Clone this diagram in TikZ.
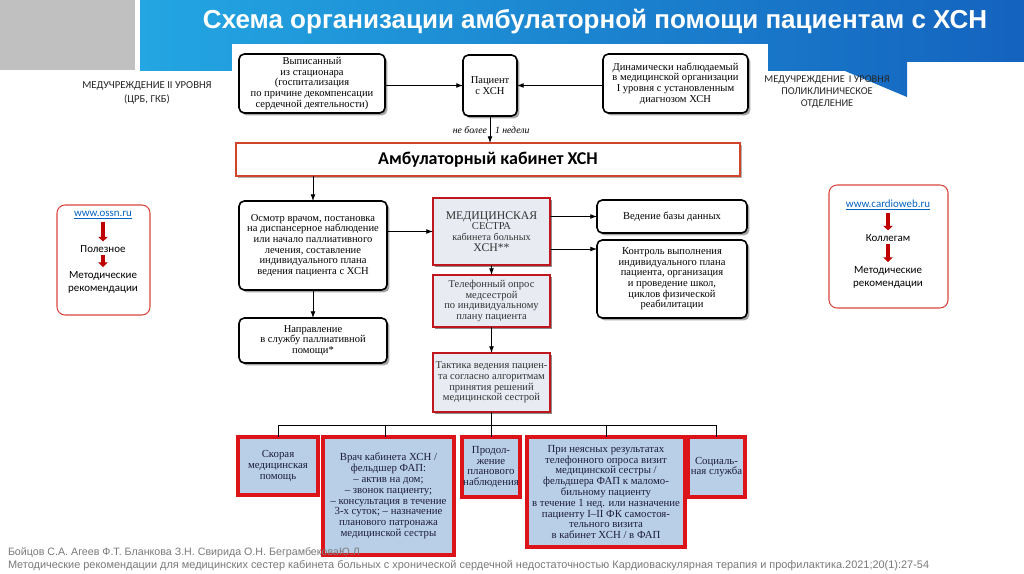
\documentclass[tikz,border=0pt]{standalone}
\usepackage{fontspec}
\setmainfont{Liberation Serif}
\newfontfamily\hfont{Liberation Sans}
\newfontfamily\cfont{Carlito}
\usetikzlibrary{shadows,calc,arrows.meta}

\definecolor{bannerL}{HTML}{23A6E2}
\definecolor{bannerR}{HTML}{1463BE}
\definecolor{slidegray}{HTML}{C0C0C0}
\definecolor{ambred}{HTML}{D0452A}
\definecolor{nred}{HTML}{C0161E}
\definecolor{bred}{HTML}{DC1419}
\definecolor{nursefill}{HTML}{E9EBF3}
\definecolor{bluefill}{HTML}{B9CFE8}
\definecolor{sidered}{HTML}{D9463E}
\definecolor{linkblue}{HTML}{0563C1}
\definecolor{arrred}{HTML}{C00000}
\definecolor{foot}{HTML}{7A7A7A}
\definecolor{navytext}{HTML}{1C1C3C}
\definecolor{labeltext}{HTML}{262626}

\newcommand\placebox[7]{%
 \pgfmathsetmacro\pbcx{(#2+#4)/2}%
 \pgfmathsetmacro\pbcy{(#3+#5)/2}%
 \pgfmathsetmacro\pbw{(#4-#2)*0.75}%
 \pgfmathsetmacro\pbh{(#5-#3)*0.75}%
 \node[#6,minimum width=\pbw pt,minimum height=\pbh pt] (#1) at (\pbcx,\pbcy) {#7};}

\tikzset{
 every node/.style={inner sep=0pt, outer sep=0pt},
 dtext/.style={font=\fontsize{7.9}{8}\selectfont, align=center},
 topbox/.style={dtext, draw=black, line width=1.2pt, rounded corners=4pt, fill=white,
   drop shadow={shadow xshift=1.8pt, shadow yshift=-1.8pt, fill=black, opacity=0.35}},
 nursebox/.style={dtext, text=black!80, draw=nred, line width=2pt, fill=nursefill,
   drop shadow={shadow xshift=1.5pt, shadow yshift=-1.5pt, fill=black, opacity=0.45}},
 bluebox/.style={dtext, font=\fontsize{8.1}{8.1}\selectfont, text=navytext, draw=bred, line width=2.3pt, fill=bluefill,
   drop shadow={shadow xshift=1.5pt, shadow yshift=-1.5pt, fill=black!80!blue, opacity=0.7}},
 ambbox/.style={draw=ambred, line width=1.6pt, fill=white,
   font=\cfont\bfseries\fontsize{13.5}{14}\selectfont,
   drop shadow={shadow xshift=1.5pt, shadow yshift=-1.5pt, fill=black, opacity=0.3}},
 sidebox/.style={draw=sidered, line width=0.8pt, rounded corners=6pt, fill=white},
 sidetext/.style={font=\cfont\fontsize{8.2}{9.8}\selectfont, align=center, text=black},
 arr/.style={-{Latex[length=5pt,width=3.6pt]}, line width=0.6pt},
 plain/.style={line width=0.6pt},
 redarr/.style={-{Triangle[length=3.5pt,width=7pt]}, line width=2.6pt, arrred},
}

\begin{document}
\begin{tikzpicture}[x=0.75pt,y=-0.75pt]
\useasboundingbox (0,0) rectangle (1024,574);
\fill[white] (0,0) rectangle (1024,574);
% header
\fill[slidegray] (0,0) rectangle (135,70);
\shade[left color=bannerL, right color=bannerR]
  (140,0) -- (1024,0) -- (1024,62) -- (907,62) -- (907,97) -- (845,71) -- (140,71) -- cycle;
\fill[white] (232,44) rectangle (768,72);
\node[font=\hfont\bfseries\fontsize{19.5}{20}\selectfont, text=white] (title) at (595,22)
  {Схема организации амбулаторной помощи пациентам с ХСН};

% side labels
\node[font=\cfont\fontsize{8}{10.5}\selectfont, align=center, text=labeltext] (lvl2) at (147,93)
  {МЕДУЧРЕЖДЕНИЕ II УРОВНЯ\\(ЦРБ, ГКБ)};
\node[font=\cfont\fontsize{7.8}{9.2}\selectfont, align=center, text=labeltext] (lvl1) at (827,92)
  {МЕДУЧРЕЖДЕНИЕ\, I УРОВНЯ\\ПОЛИКЛИНИЧЕСКОЕ\\ОТДЕЛЕНИЕ};

% left side box
\placebox{lbox}{57}{205}{150}{315}{sidebox}{}
\node[sidetext, text=linkblue] (oss) at (103,215) {\underline{www.ossn.ru}};
\node[sidetext] (pol) at (103,249) {Полезное};
\node[sidetext] (metL) at (103,282) {Методические\\рекомендации};
\draw[redarr] ([yshift=-2pt]oss.south) -- ([yshift=3pt]pol.north);
\draw[redarr] ([yshift=-2pt]pol.south) -- ([yshift=3pt]metL.north);

% right side box
\placebox{rbox}{829}{185}{948}{308}{sidebox}{}
\node[sidetext, text=linkblue] (cw) at (888,205) {\underline{www.cardioweb.ru}};
\node[sidetext] (kol) at (888,238) {Коллегам};
\node[sidetext] (metR) at (888,277) {Методические\\рекомендации};
\draw[redarr] ([yshift=-2pt]cw.south) -- ([yshift=3pt]kol.north);
\draw[redarr] ([yshift=-2pt]kol.south) -- ([yshift=3pt]metR.north);

% top row
\placebox{A}{239}{54}{385}{113}{topbox}{Выписанный\\из стационара\\(госпитализация\\по причине декомпенсации\\сердечной деятельности)}
\placebox{B}{463}{55}{517}{116}{topbox}{Пациент\\с ХСН}
\placebox{C}{603}{54}{748}{113}{topbox}{Динамически наблюдаемый\\в медицинской организации\\I уровня с установленным\\диагнозом ХСН}

\placebox{amb}{236}{143}{740}{176}{ambbox}{Амбулаторный кабинет ХСН}

% left column
\placebox{D}{239}{201}{387}{290}{topbox}{Осмотр врачом, постановка\\на диспансерное наблюдение\\или начало паллиативного\\лечения, составление\\индивидуального плана\\ведения пациента с ХСН}
\placebox{E}{239}{318}{387}{363}{topbox}{Направление\\в службу паллиативной\\помощи*}

% centre column
\placebox{F}{433}{198}{550}{265}{nursebox}{\fontsize{8.8}{9.2}\selectfont МЕДИЦИНСКАЯ\\СЕСТРА\\\fontsize{7.6}{8.6}\selectfont кабинета больных\\\fontsize{8.8}{9}\selectfont ХСН**}
\placebox{I}{433}{275}{550}{327}{nursebox}{Телефонный опрос\\медсестрой\\по индивидуальному\\плану пациента}
\placebox{J}{433}{353}{550}{412}{nursebox}{Тактика ведения пациен-\\та согласно алгоритмам\\принятия решений\\медицинской сестрой}

% right column
\placebox{G}{597}{200}{747}{233}{topbox}{Ведение базы данных}
\placebox{H}{597}{240}{747}{318}{topbox}{Контроль выполнения\\индивидуального плана\\пациента, организация\\и проведение школ,\\циклов физической\\реабилитации}

% bottom row
\placebox{K}{238}{437}{318}{495}{bluebox}{Скорая\\медицинская\\помощь}
\placebox{L}{323}{437}{454}{555}{bluebox}{Врач кабинета ХСН /\\фельдшер ФАП:\\– актив на дом;\\– звонок пациенту;\\– консультация в течение\\3-х суток; – назначение\\планового патронажа\\медицинской сестры}
\placebox{M}{462}{437}{520}{497}{bluebox}{Продол-\\жение\\планового\\наблюдения}
\placebox{N}{527}{437}{685}{547}{bluebox}{При неясных результатах\\телефонного опроса визит\\медицинской сестры /\\фельдшера ФАП к маломо-\\бильному пациенту\\в течение 1 нед. или назначение\\пациенту I–II ФК самостоя-\\тельного визита\\в кабинет ХСН / в ФАП}
\placebox{O}{688}{437}{745}{497}{bluebox}{Социаль-\\ная служба}

% connectors
\draw[arr] (A.east |- B.west) -- (B.west);
\draw[arr] (C.west |- B.east) -- (B.east);
\draw[arr] (B.south) -- (B.south |- amb.north);
\node[font=\itshape\fontsize{7.3}{8}\selectfont, anchor=east] (nb) at (487,130) {не более};
\node[font=\itshape\fontsize{7.3}{8}\selectfont, anchor=west] (ned) at (495,130) {1 недели};
\draw[arr] (amb.south -| D.north) -- (D.north);
\draw[arr] (D.south) -- (E.north);
\draw[arr] (D.east |- F.west) -- (F.west);
\draw[arr] (F.east |- G.west) -- (G.west);
\draw[arr] ($(F.south east)+(0,-16)$) -- ($(H.north west)+(0,9)$);
\draw[arr] (F.south) -- (I.north);
\draw[arr] (I.south) -- (J.north);
\coordinate (bus) at (491.5,425);
\draw[plain] (J.south) -- (bus);
\draw[plain] (K.north |- bus) -- (O.north |- bus);
\draw[plain] (K.north |- bus) -- (K.north);
\draw[plain] (385,425) -- (385,437);
\draw[plain] (M.north |- bus) -- (M.north);
\draw[plain] (N.north |- bus) -- (N.north);
\draw[plain] (O.north |- bus) -- (O.north);

% footer
\node[font=\hfont\fontsize{8}{10}\selectfont, text=foot, anchor=west] (ref1) at (8,553)
  {Бойцов С.А. Агеев Ф.Т. Бланкова З.Н. Свирида О.Н. БеграмбековаЮ.Л};
\node[font=\hfont\fontsize{8.2}{10}\selectfont, text=foot, anchor=west] (ref2) at (8,566)
  {Методические рекомендации для медицинских сестер кабинета больных с хронической сердечной недостаточностью Кардиоваскулярная терапия и профилактика.2021;20(1):27-54};
\end{tikzpicture}
\end{document}
